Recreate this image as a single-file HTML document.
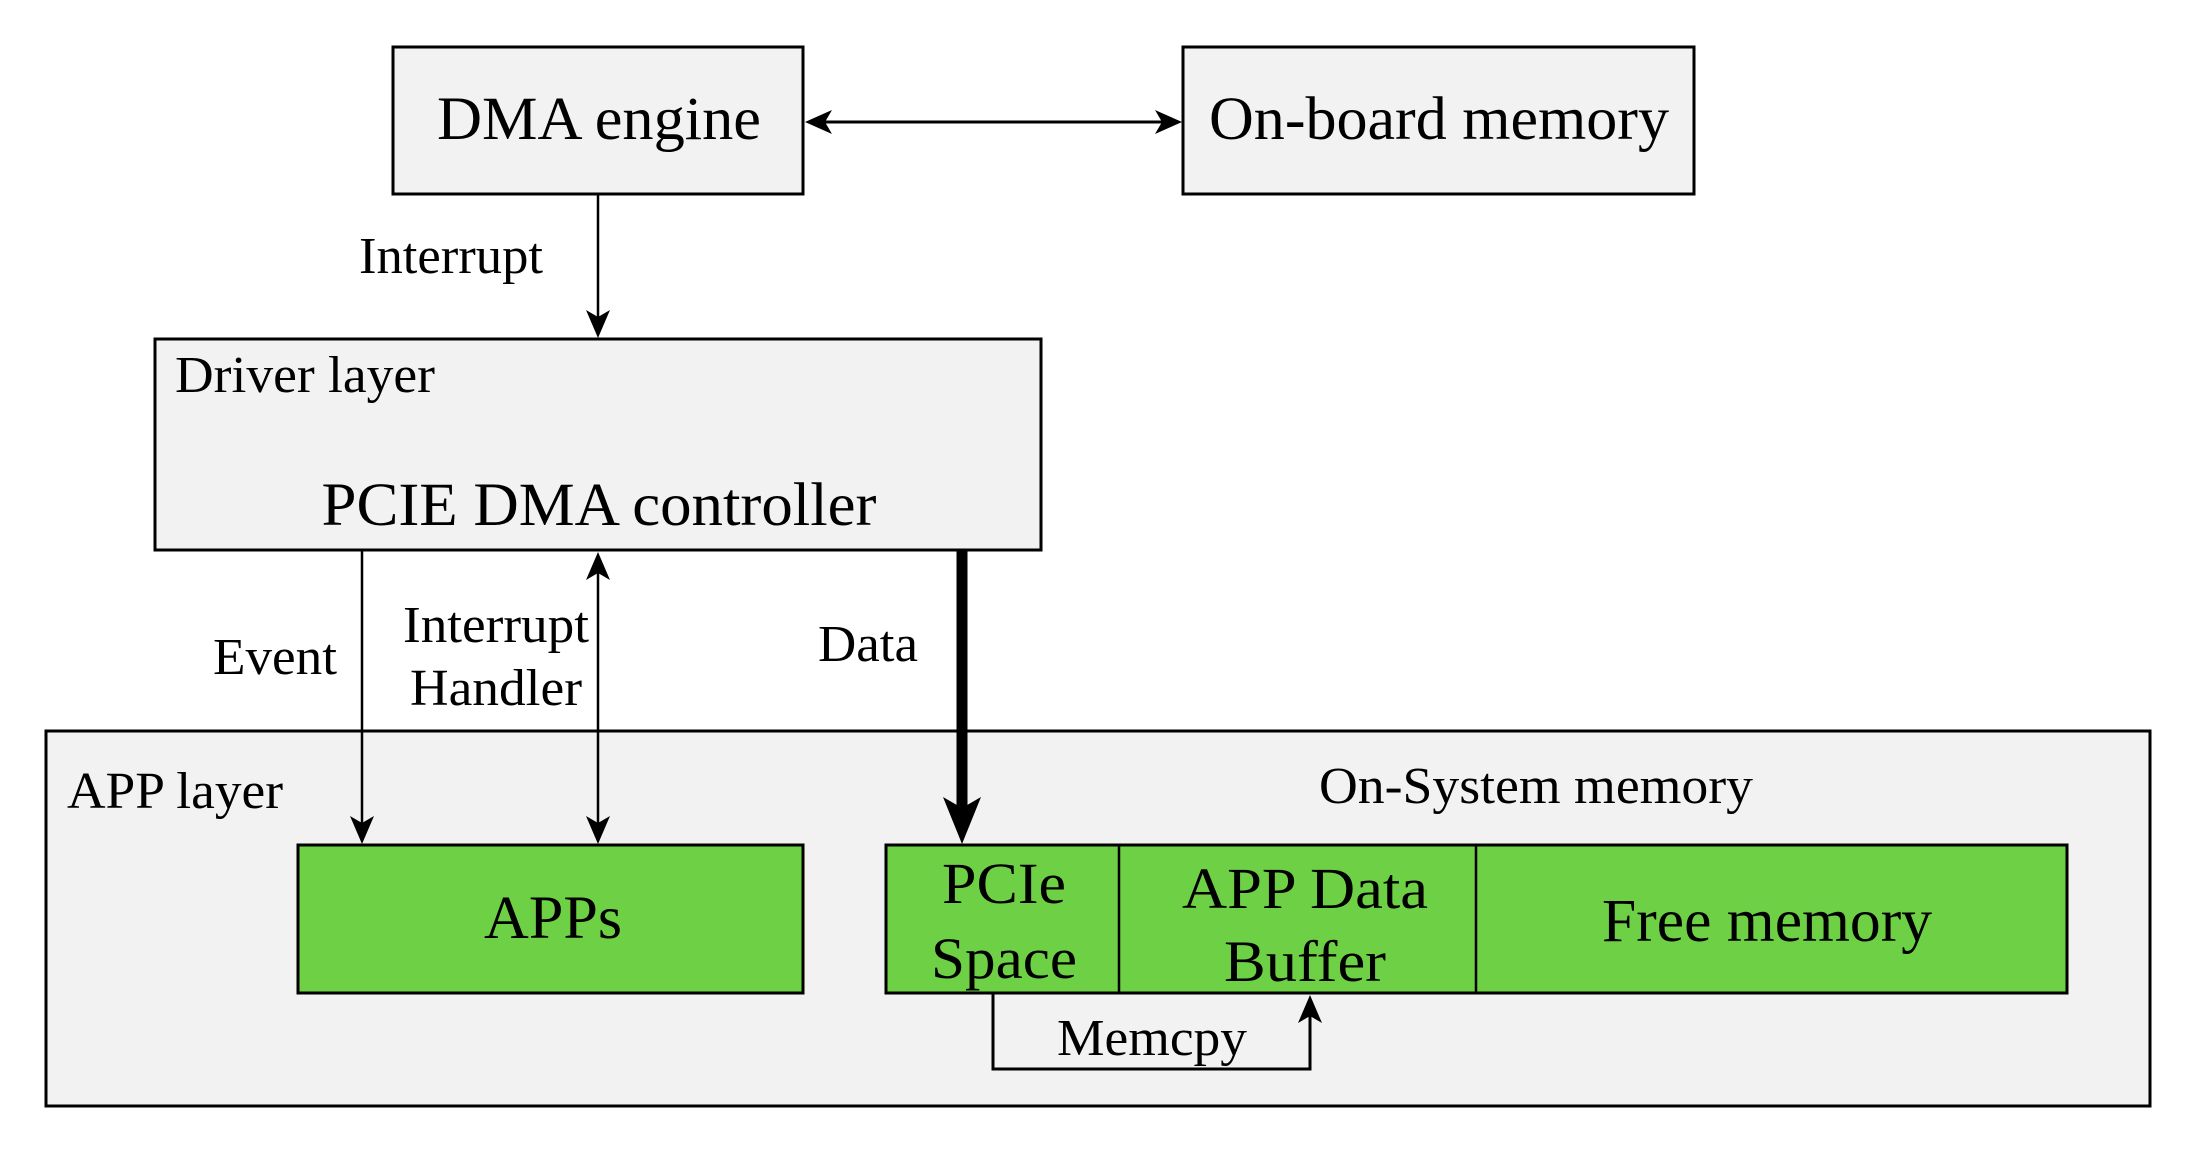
<!DOCTYPE html>
<html><head><meta charset="utf-8"><style>
html,body{margin:0;padding:0;background:#fff;}
svg{display:block;}
text{font-family:"Liberation Serif",serif;fill:#000;}
</style></head><body>
<svg width="2190" height="1150" viewBox="0 0 2190 1150" xmlns="http://www.w3.org/2000/svg">
<!-- DMA engine -->
<rect x="393" y="47" width="410" height="147" fill="#f2f2f2" stroke="#000" stroke-width="3"/>
<text x="599" y="139" font-size="61" text-anchor="middle" textLength="324" lengthAdjust="spacingAndGlyphs">DMA engine</text>
<!-- On-board memory -->
<rect x="1183" y="47" width="511" height="147" fill="#f2f2f2" stroke="#000" stroke-width="3"/>
<text x="1439" y="139" font-size="61" text-anchor="middle" textLength="460" lengthAdjust="spacingAndGlyphs">On-board memory</text>
<!-- bidir arrow -->
<line x1="820" y1="122" x2="1166" y2="122" stroke="#000" stroke-width="3"/>
<path d="M805,122 L832,110 L825,122 L832,134 Z" fill="#000"/>
<path d="M1182,122 L1155,110 L1162,122 L1155,134 Z" fill="#000"/>
<!-- Interrupt down -->
<line x1="598" y1="194" x2="598" y2="320" stroke="#000" stroke-width="2.5"/>
<path d="M598,338 L586,310 L598,317 L610,310 Z" fill="#000"/>
<text x="451" y="273" font-size="52" text-anchor="middle" textLength="184" lengthAdjust="spacingAndGlyphs">Interrupt</text>
<!-- Driver layer -->
<rect x="155" y="339" width="886" height="211" fill="#f2f2f2" stroke="#000" stroke-width="3"/>
<text x="175" y="392" font-size="52" textLength="260" lengthAdjust="spacingAndGlyphs">Driver layer</text>
<text x="599" y="525" font-size="61" text-anchor="middle" textLength="555" lengthAdjust="spacingAndGlyphs">PCIE DMA controller</text>
<!-- APP layer -->
<rect x="46" y="731" width="2104" height="375" fill="#f2f2f2" stroke="#000" stroke-width="3"/>
<text x="67" y="808" font-size="52" textLength="216" lengthAdjust="spacingAndGlyphs">APP layer</text>
<text x="1536" y="803" font-size="52" text-anchor="middle" textLength="434" lengthAdjust="spacingAndGlyphs">On-System memory</text>
<!-- Event -->
<line x1="362" y1="551" x2="362" y2="826" stroke="#000" stroke-width="2.5"/>
<path d="M362,844 L350,816 L362,823 L374,816 Z" fill="#000"/>
<text x="275" y="674" font-size="52" text-anchor="middle" textLength="124" lengthAdjust="spacingAndGlyphs">Event</text>
<!-- Interrupt Handler -->
<line x1="598" y1="570" x2="598" y2="826" stroke="#000" stroke-width="2.5"/>
<path d="M598,844 L586,816 L598,823 L610,816 Z" fill="#000"/>
<path d="M598,552 L586,580 L598,573 L610,580 Z" fill="#000"/>
<text x="496" y="642" font-size="52" text-anchor="middle" textLength="186" lengthAdjust="spacingAndGlyphs">Interrupt</text>
<text x="496" y="705" font-size="52" text-anchor="middle" textLength="172" lengthAdjust="spacingAndGlyphs">Handler</text>
<!-- Data -->
<line x1="962" y1="551" x2="962" y2="810" stroke="#000" stroke-width="11"/>
<path d="M962,844 L943,797 L962,808 L981,797 Z" fill="#000"/>
<text x="868" y="661" font-size="52" text-anchor="middle" textLength="100" lengthAdjust="spacingAndGlyphs">Data</text>
<!-- APPs -->
<rect x="298" y="845" width="505" height="148" fill="#6dd045" stroke="#000" stroke-width="3"/>
<text x="553" y="938" font-size="61" text-anchor="middle" textLength="138" lengthAdjust="spacingAndGlyphs">APPs</text>
<!-- Memory -->
<rect x="886" y="845" width="1181" height="148" fill="#6dd045" stroke="#000" stroke-width="3"/>
<line x1="1119" y1="845" x2="1119" y2="993" stroke="#000" stroke-width="2.5"/>
<line x1="1476" y1="845" x2="1476" y2="993" stroke="#000" stroke-width="2.5"/>
<text x="1004" y="903" font-size="58" text-anchor="middle" textLength="124" lengthAdjust="spacingAndGlyphs">PCIe</text>
<text x="1004" y="978" font-size="58" text-anchor="middle" textLength="146" lengthAdjust="spacingAndGlyphs">Space</text>
<text x="1305" y="908" font-size="58" text-anchor="middle" textLength="246" lengthAdjust="spacingAndGlyphs">APP Data</text>
<text x="1305" y="981" font-size="58" text-anchor="middle" textLength="162" lengthAdjust="spacingAndGlyphs">Buffer</text>
<text x="1767" y="941" font-size="61" text-anchor="middle" textLength="330" lengthAdjust="spacingAndGlyphs">Free memory</text>
<!-- Memcpy -->
<polyline points="993,993 993,1069 1310,1069 1310,1015" fill="none" stroke="#000" stroke-width="3"/>
<path d="M1310,995 L1298,1023 L1310,1016 L1322,1023 Z" fill="#000"/>
<text x="1152" y="1055" font-size="52" text-anchor="middle" textLength="190" lengthAdjust="spacingAndGlyphs">Memcpy</text>
</svg>
</body></html>
